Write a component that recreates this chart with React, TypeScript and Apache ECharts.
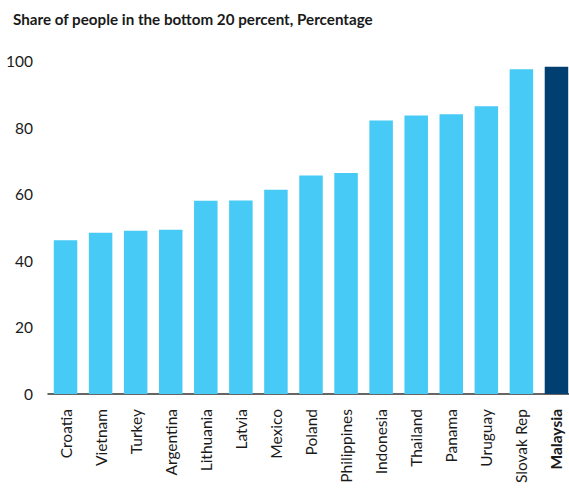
import React, { useEffect, useRef } from "react";
import * as echarts from "echarts";

const categories = ["Croatia", "Vietnam", "Turkey", "Argentina", "Lithuania", "Latvia", "Mexico", "Poland", "Philippines", "Indonesia", "Thailand", "Panama", "Uruguay", "Slovak Rep", "Malaysia"];
const values = [46.2, 48.4, 49.0, 49.3, 58.0, 58.1, 61.3, 65.6, 66.4, 82.1, 83.6, 84.0, 86.4, 97.5, 98.3];
const highlight = "Malaysia";
const title = "Share of people in the bottom 20 percent, Percentage";

export default function App() {
  const ref = useRef<HTMLDivElement>(null);
  useEffect(() => {
    const chart = echarts.init(ref.current!, null, { renderer: "svg" });
    const font = "Lato, 'Noto Sans', sans-serif";
    chart.setOption({
      animation: false,
      title: {
        text: title,
        left: 8,
        top: 6,
        textStyle: { fontFamily: font, fontSize: 15.2, fontWeight: "bold", color: "#1a1a1a" },
      },
      grid: { left: 48, right: 0, top: 61, bottom: 96, containLabel: false },
      xAxis: {
        type: "category",
        data: categories,
        axisLine: { lineStyle: { color: "#333", width: 1.5 } },
        axisTick: { show: false },
        axisLabel: {
          rotate: 90,
          margin: 15,
          interval: 0,
          fontFamily: font,
          fontSize: 15.5,
          color: "#1a1a1a",
          formatter: (v: string) => (v === highlight ? "{b|" + v + "}" : v),
          rich: { b: { fontWeight: "bold", fontFamily: font, fontSize: 15.5, color: "#1a1a1a" } },
        },
      },
      yAxis: {
        type: "value",
        min: 0,
        max: 100,
        interval: 20,
        splitLine: { show: false },
        axisLine: { show: false },
        axisTick: { show: false },
        axisLabel: { margin: 15, fontFamily: font, fontSize: 15.5, color: "#1a1a1a" },
      },
      series: [
        {
          type: "bar",
          barCategoryGap: "33%",
          data: values.map((v, i) => ({
            value: v,
            itemStyle: { color: categories[i] === highlight ? "#003F6F" : "#47CAF6" },
          })),
        },
      ],
    });
    return () => chart.dispose();
  }, []);
  return (
    <div style={{ position: "absolute", left: 0, top: 0, width: 569, height: 490, overflow: "hidden" }}>
      <div ref={ref} style={{ width: 574, height: 490 }} />
    </div>
  );
}
